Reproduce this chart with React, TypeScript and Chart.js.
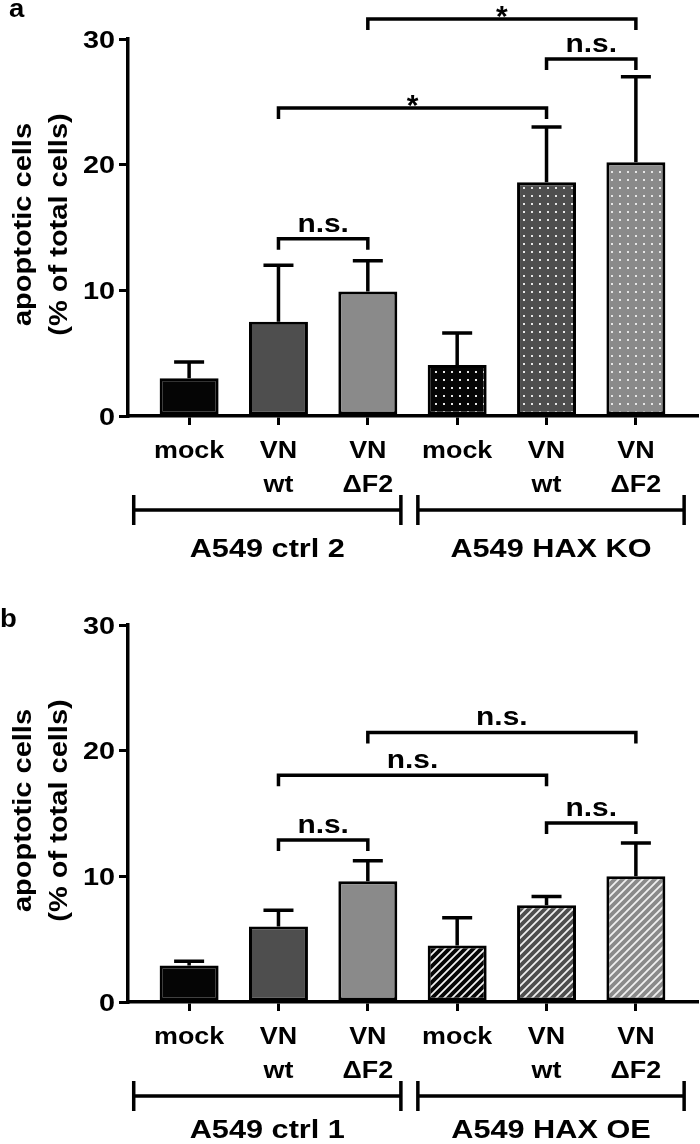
import React, { useEffect, useRef } from "react";
import { Chart, registerables } from "chart.js";
Chart.register(...registerables);

// ---------- data ----------
const categoryLines: string[][] = [["mock"], ["VN", "wt"], ["VN", "ΔF2"], ["mock"], ["VN", "wt"], ["VN", "ΔF2"]];
const yTickValues = [0, 10, 20, 30];
const yTitleLines = ["apoptotic cells", "(% of total cells)"];
const baseColors = ["#050505", "#4e4e4e", "#8a8a8a"];

const aMeans = [3.0, 7.5, 9.9, 4.05, 18.6, 20.2];
const aErrors = [1.3, 4.5, 2.45, 2.55, 4.4, 6.8];
const aGroups = ["A549 ctrl 2", "A549 HAX KO"];
const aCompFrom = [1, 4, 1, 2];
const aCompTo = [2, 5, 4, 5];
const aCompLevel = [14.1, 28.4, 24.5, 31.6];
const aCompLabel = ["n.s.", "n.s.", "*", "*"];

const bMeans = [2.9, 6.0, 9.6, 4.5, 7.7, 10.0];
const bErrors = [0.35, 1.3, 1.65, 2.2, 0.7, 2.65];
const bGroups = ["A549 ctrl 1", "A549 HAX OE"];
const bCompFrom = [1, 4, 1, 2];
const bCompTo = [2, 5, 4, 5];
const bCompLevel = [12.9, 14.25, 18.05, 21.45];
const bCompLabel = ["n.s.", "n.s.", "n.s.", "n.s."];

// ---------- helpers ----------
const FONT = '"Liberation Sans", Arial, Helvetica, sans-serif';
const SX = 1.1;

function drawText(ctx: CanvasRenderingContext2D, text: string, x: number, y: number, size: number, align: CanvasTextAlign, sx = SX) {
  ctx.save();
  ctx.font = `bold ${size}px ${FONT}`;
  ctx.fillStyle = "#000";
  ctx.textAlign = align;
  ctx.textBaseline = "alphabetic";
  ctx.translate(x, y);
  ctx.scale(sx, 1);
  ctx.fillText(text, 0, 0);
  ctx.restore();
}

function makePattern(base: string, kind: string): CanvasPattern | string {
  const c = document.createElement("canvas");
  const s = 8;
  c.width = s;
  c.height = s;
  const g = c.getContext("2d");
  if (!g) return base;
  g.fillStyle = base;
  g.fillRect(0, 0, s, s);
  if (kind === "dots") {
    g.fillStyle = "#e6e6e6";
    g.fillRect(3, 3, 2, 2);
  } else {
    g.strokeStyle = "#f0f0f0";
    g.lineWidth = 1.8;
    g.beginPath();
    g.moveTo(-2, s + 2);
    g.lineTo(s + 2, -2);
    g.moveTo(-2, 2);
    g.lineTo(2, -2);
    g.moveTo(s - 2, s + 2);
    g.lineTo(s + 2, s - 2);
    g.stroke();
  }
  return g.createPattern(c, "repeat") || base;
}

interface PanelProps {
  letter: string;
  means: number[];
  errors: number[];
  groups: string[];
  compFrom: number[];
  compTo: number[];
  compLevel: number[];
  compLabel: string[];
  pattern: string;
  height: number;
  letterY: number;
  groupLabelOffset: number;
}

function Panel(p: PanelProps) {
  const ref = useRef<HTMLCanvasElement>(null);
  useEffect(() => {
    const canvas = ref.current;
    if (!canvas) return;
    const fills = p.means.map((_, i) => (i < 3 ? baseColors[i] : makePattern(baseColors[i - 3], p.pattern)));

    const annot = {
      id: "annot",
      afterDatasetsDraw(chart: any) {
        const ctx: CanvasRenderingContext2D = chart.ctx;
        const xs = chart.scales.x;
        const ys = chart.scales.y;
        ctx.save();
        ctx.strokeStyle = "#000";
        ctx.lineWidth = 3.5;
        p.means.forEach((m, i) => {
          const x = xs.getPixelForValue(i);
          const y0 = ys.getPixelForValue(m);
          const y1 = ys.getPixelForValue(m + p.errors[i]);
          ctx.beginPath();
          ctx.moveTo(x, y0);
          ctx.lineTo(x, y1);
          ctx.moveTo(x - 15, y1);
          ctx.lineTo(x + 15, y1);
          ctx.stroke();
        });
        ctx.restore();
      },
      afterDraw(chart: any) {
        const ctx: CanvasRenderingContext2D = chart.ctx;
        const xs = chart.scales.x;
        const ys = chart.scales.y;
        const { left, top, bottom } = chart.chartArea;

        // tick labels
        categoryLines.forEach((lines, i) => {
          const x = xs.getPixelForValue(i);
          lines.forEach((t, k) => drawText(ctx, t, x, bottom + 42 + k * 34, 24, "center", 1.12));
        });
        yTickValues.forEach((v) => drawText(ctx, String(v), left - 13, ys.getPixelForValue(v) + 8.5, 24, "right", 1.2));

        ctx.save();
        ctx.strokeStyle = "#000";
        ctx.lineWidth = 3.5;
        // comparison brackets
        p.compFrom.forEach((f, k) => {
          const x1 = xs.getPixelForValue(f);
          const x2 = xs.getPixelForValue(p.compTo[k]);
          const y = ys.getPixelForValue(p.compLevel[k]);
          ctx.beginPath();
          ctx.moveTo(x1, y + 11);
          ctx.lineTo(x1, y);
          ctx.lineTo(x2, y);
          ctx.lineTo(x2, y + 11);
          ctx.stroke();
          const mid = (x1 + x2) / 2;
          if (p.compLabel[k] === "*") drawText(ctx, "*", mid, y + 7, 30, "center", 1);
          else drawText(ctx, p.compLabel[k], mid, y - 7, 26, "center", 1.15);
        });
        // group brackets
        const gy = bottom + 94;
        const ext = [
          [-0.62, 0.37],
          [-0.44, 0.54],
        ];
        p.groups.forEach((g, gi) => {
          const first = gi * 3;
          const last = first + 2;
          const xa = xs.getPixelForValue(first + ext[gi][0]);
          const xb = xs.getPixelForValue(last + ext[gi][1]);
          ctx.beginPath();
          ctx.moveTo(xa, gy - 15);
          ctx.lineTo(xa, gy + 15);
          ctx.moveTo(xa, gy);
          ctx.lineTo(xb, gy);
          ctx.moveTo(xb, gy - 15);
          ctx.lineTo(xb, gy + 15);
          ctx.stroke();
          drawText(ctx, g, (xa + xb) / 2, bottom + p.groupLabelOffset, 26, "center", 1.18);
        });
        ctx.restore();

        // y title
        const cy = (top + bottom) / 2 - 3;
        [31, 67].forEach((bx, k) => {
          ctx.save();
          ctx.translate(bx, cy);
          ctx.scale(0.9, 1);
          ctx.rotate(-Math.PI / 2);
          ctx.font = `bold 29px ${FONT}`;
          ctx.fillStyle = "#000";
          ctx.textAlign = "center";
          ctx.textBaseline = "alphabetic";
          ctx.fillText(yTitleLines[k], 0, 0);
          ctx.restore();
        });

        // panel letter
        drawText(ctx, p.letter, p.letter === "a" ? 9 : 0, p.letterY, 25, "left");
      },
    };

    const axisGrid = {
      display: true,
      drawOnChartArea: false,
      drawTicks: true,
      tickLength: 9,
      lineWidth: 3,
      color: "#000",
    };

    const chart = new Chart(canvas, {
      type: "bar",
      data: {
        datasets: [
          {
            data: p.means.map((m, i) => ({ x: i, y: m })),
            backgroundColor: fills as any,
            borderColor: "#000",
            borderWidth: 3,
            borderSkipped: false,
            barPercentage: 0.66,
            categoryPercentage: 1,
          },
        ],
      },
      options: {
        responsive: false,
        animation: false,
        events: [],
        layout: { padding: { left: 119, right: 3, top: 39, bottom: p.height - 416 - 9 } },
        plugins: { legend: { display: false }, tooltip: { enabled: false } },
        scales: {
          x: {
            type: "linear",
            offset: false,
            min: -0.684,
            max: 5.684,
            afterBuildTicks: (s: any) => {
              s.ticks = categoryLines.map((_, i) => ({ value: i }));
            },
            afterFit: (s: any) => {
              s.height = 9;
            },
            ticks: { display: false },
            grid: { ...axisGrid, offset: false },
            border: { display: true, width: 3.5, color: "#000" },
          },
          y: {
            min: 0,
            max: 30,
            afterBuildTicks: (s: any) => {
              s.ticks = yTickValues.map((v) => ({ value: v }));
            },
            afterFit: (s: any) => {
              s.width = 9;
            },
            ticks: { display: false },
            grid: axisGrid,
            border: { display: true, width: 3.5, color: "#000" },
          },
        },
      } as any,
      plugins: [annot as any],
    });
    return () => chart.destroy();
  }, []);
  return <canvas ref={ref} width={700} height={p.height} style={{ display: "block", width: 700, height: p.height }} />;
}

export default function App() {
  return (
    <div style={{ position: "absolute", left: 0, top: 0, width: 700, height: 1144, background: "#fff" }}>
      <Panel
        letter="a"
        means={aMeans}
        errors={aErrors}
        groups={aGroups}
        compFrom={aCompFrom}
        compTo={aCompTo}
        compLevel={aCompLevel}
        compLabel={aCompLabel}
        pattern="dots"
        height={586}
        letterY={17}
        groupLabelOffset={141}
      />
      <Panel
        letter="b"
        means={bMeans}
        errors={bErrors}
        groups={bGroups}
        compFrom={bCompFrom}
        compTo={bCompTo}
        compLevel={bCompLevel}
        compLabel={bCompLabel}
        pattern="stripes"
        height={558}
        letterY={41}
        groupLabelOffset={136}
      />
    </div>
  );
}
